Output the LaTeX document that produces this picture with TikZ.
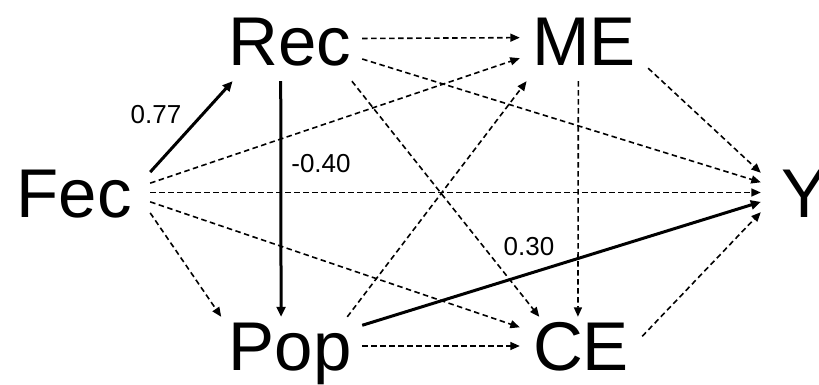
\documentclass[tikz,border=0pt]{standalone}
\usepackage{fontspec}
\setmainfont{Liberation Sans}
\usetikzlibrary{arrows.meta}

\begin{document}
\begin{tikzpicture}[x=1pt, y=-1pt,
  var/.style={font=\fontsize{69}{69}\selectfont, inner sep=0pt, text height=49.4pt, text depth=0pt},
  coef/.style={font=\fontsize{26}{26}\selectfont, inner sep=0pt},
  sig/.style={-{Triangle[length=10pt, width=9pt]}, line width=3pt},
  nsig/.style={-{Triangle[length=9.5pt, width=8pt]}, line width=1.6pt, dash pattern=on 5.5pt off 3.5pt}
]
  \useasboundingbox (0,0) rectangle (819,385);

  \node[var, minimum width=152pt, minimum height=60pt] (Fec) at (74,192.5) {Fec};
  \node[var, minimum width=144pt, minimum height=80pt] (Rec) at (290,41) {Rec};
  \node[var, minimum width=128pt, minimum height=80pt] (ME) at (584,41) {ME};
  \node[var, minimum width=144pt, minimum height=58pt] (Pop) at (290,346) {Pop};
  \node[var, minimum width=122pt, minimum height=58pt] (CE) at (581,346) {CE};
  \node[var, minimum width=88pt, minimum height=60pt] (Y) at (805,192.5) {Y};

  \draw[nsig] (Rec.2) -- (ME.177);
  \draw[nsig] (Rec.-14) -- (Y.167);
  \draw[nsig] (Rec.-33) -- (CE.145);
  \draw[nsig] (Fec.7) -- (ME.-165);
  \draw[nsig] (Fec.east) -- (Y.west);
  \draw[nsig] (Fec.-7) -- (CE.163);
  \draw[nsig] (Fec.-15) -- (Pop.157);
  \draw[nsig] (Pop.27) -- (ME.-145);
  \draw[nsig] (Pop.east) -- (CE.west);
  \draw[nsig] (ME.-98) -- (CE.96);
  \draw[nsig] (ME.-23) -- (Y.156);
  \draw[nsig] (CE.9) -- (Y.-156);

  \draw[sig] (Fec.15) -- (Rec.-145);
  \draw[sig] (Rec.-103) -- (Pop.107);
  \draw[sig] (Pop.16) -- (Y.-168);

  \node[coef] (c77) at (156,115) {0.77};
  \node[coef] (c40) at (321,164) {-0.40};
  \node[coef] (c30) at (529,247) {0.30};
\end{tikzpicture}
\end{document}
